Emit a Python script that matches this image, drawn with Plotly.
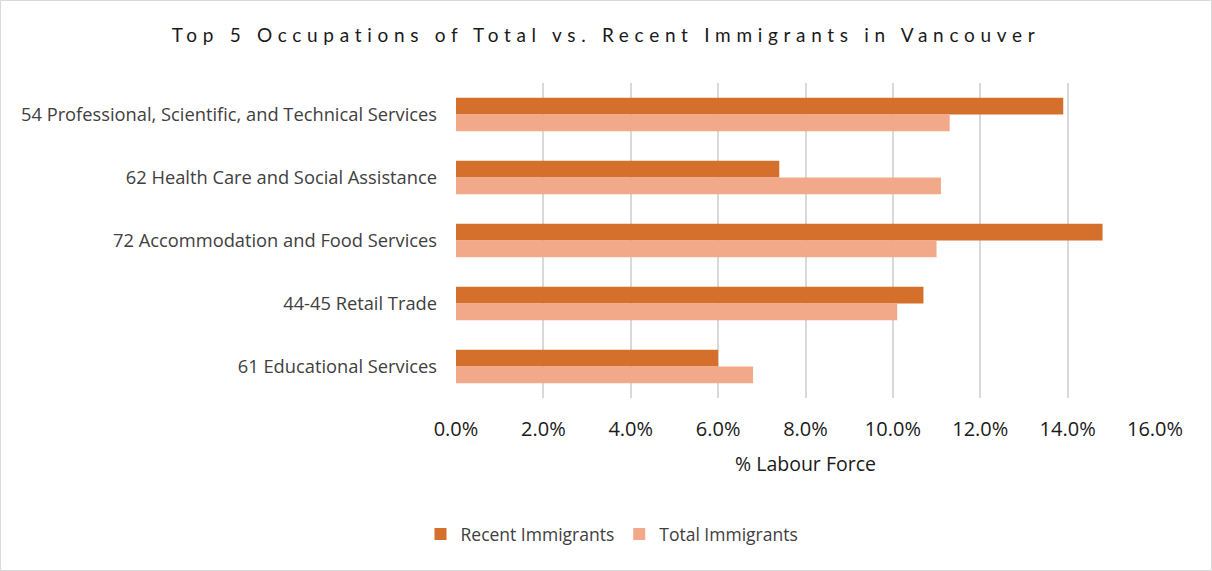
import plotly.graph_objects as go

# Industries (top to bottom) and share of labour force, in percent
industries = [
    "54 Professional, Scientific, and Technical Services",
    "62 Health Care and Social Assistance",
    "72 Accommodation and Food Services",
    "44-45 Retail Trade",
    "61 Educational Services",
]
recent_immigrants = [13.9, 7.4, 14.8, 10.7, 6.0]
total_immigrants = [11.3, 11.1, 11.0, 10.1, 6.8]
x_ticks = [0, 2, 4, 6, 8, 10, 12, 14, 16]
x_tick_labels = [f"{v:.1f}%" for v in x_ticks]

W, H = 1212, 571
L, R, T, B = 456, 57, 83, 173
FONT = "Open Sans"
TEXT = "#404040"

fig = go.Figure()
fig.add_trace(go.Bar(
    name="Recent Immigrants", y=industries, x=recent_immigrants, orientation="h",
    marker=dict(color="#D4702C", line=dict(width=0)),
))
fig.add_trace(go.Bar(
    name="Total Immigrants", y=industries, x=total_immigrants, orientation="h",
    marker=dict(color="#F2A98A", line=dict(width=0)),
))

pw = W - L - R
ph = H - T - B
# light frame around the whole chart
fig.add_shape(
    type="rect", xref="paper", yref="paper",
    x0=(0.5 - L) / pw, x1=(W - 0.5 - L) / pw,
    y0=-(B - 0.5) / ph, y1=1 + (T - 0.5) / ph,
    line=dict(color="#d9d9d9", width=1), fillcolor="rgba(0,0,0,0)", layer="below",
)

fig.update_layout(
    width=W, height=H,
    margin=dict(l=L, r=R, t=T, b=B, pad=0),
    paper_bgcolor="white", plot_bgcolor="white",
    barmode="group", bargap=0.47, bargroupgap=0,
    font=dict(family=FONT, color=TEXT, size=17),
    title=dict(
        text="Top 5 Occupations of Total vs. Recent Immigrants in Vancouver",
        x=0.5, xref="container", xanchor="center",
        y=1 - 35 / H, yref="container", yanchor="middle",
        font=dict(family="Lato", size=19, color="#1a1a1a"),
    ),
    xaxis=dict(
        range=[0, 16], tickvals=x_ticks, ticktext=x_tick_labels,
        showgrid=True, gridcolor="#d9d9d9", gridwidth=2,
        zeroline=False, showline=False, ticks="",
        tickfont=dict(size=20, color="#1a1a1a"), ticklabelstandoff=17,
        title=dict(text="% Labour Force", font=dict(size=19.5, color="#1a1a1a"), standoff=16),
        fixedrange=True,
    ),
    yaxis=dict(
        categoryorder="array", categoryarray=industries, autorange="reversed",
        showgrid=False, zeroline=False, showline=False, ticks="",
        tickfont=dict(size=18.3, color=TEXT), ticklabelstandoff=18,
        fixedrange=True,
    ),
    legend=dict(
        orientation="h", x=(612 - L) / pw, xanchor="center",
        y=-(534 - (H - B)) / ph, yanchor="middle",
        font=dict(size=17.5, color=TEXT), traceorder="normal",
        itemwidth=30, entrywidth=0,
    ),
    showlegend=True,
)

post = """
var t = document.querySelector('.gtitle');
if (t) { t.style.letterSpacing = '5.7px'; }
"""
fig.write_html("out.html", post_script=post, config={"displayModeBar": False})
